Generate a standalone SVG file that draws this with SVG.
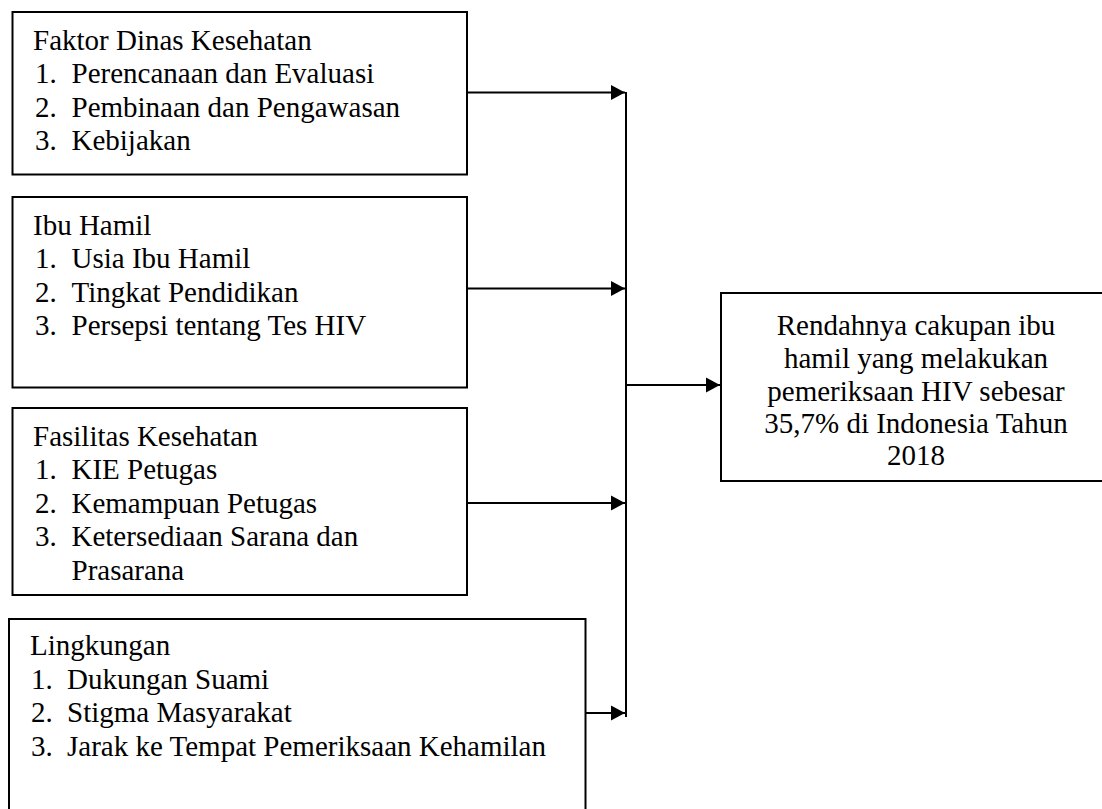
<svg xmlns="http://www.w3.org/2000/svg" width="1102" height="809" viewBox="0 0 1102 809">
<style>
.box{fill:#fff;stroke:#000;stroke-width:2}
.t{font-family:"Liberation Serif","Times New Roman",serif;font-size:29px;fill:#000}
.c{text-anchor:middle}
.ln{stroke:#000;stroke-width:2;fill:none}
</style>
<defs>
<marker id="ah" markerUnits="userSpaceOnUse" markerWidth="16" markerHeight="16" viewBox="0 0 16 16" refX="15" refY="8" orient="auto">
<path d="M1,0.5 L15,8 L1,15.5 Z" fill="#000"/>
</marker>
</defs>
<rect width="1102" height="809" fill="#fff"/>
<g id="node-dinkes">
<rect class="box" x="12.5" y="12" width="454.5" height="162.5"/>
<text class="t" x="33" y="50">Faktor Dinas Kesehatan</text>
<text class="t" x="35" y="83.4">1.</text><text class="t" x="71.5" y="83.4">Perencanaan dan Evaluasi</text>
<text class="t" x="35" y="116.8">2.</text><text class="t" x="71.5" y="116.8">Pembinaan dan Pengawasan</text>
<text class="t" x="35" y="150.2">3.</text><text class="t" x="71.5" y="150.2">Kebijakan</text>
</g>
<g id="node-ibuhamil">
<rect class="box" x="12.5" y="197" width="454.5" height="190.5"/>
<text class="t" x="33" y="235">Ibu Hamil</text>
<text class="t" x="35" y="268.4">1.</text><text class="t" x="71.5" y="268.4">Usia Ibu Hamil</text>
<text class="t" x="35" y="301.8">2.</text><text class="t" x="71.5" y="301.8">Tingkat Pendidikan</text>
<text class="t" x="35" y="335.2">3.</text><text class="t" x="71.5" y="335.2">Persepsi tentang Tes HIV</text>
</g>
<g id="node-faskes">
<rect class="box" x="12.5" y="408" width="454.5" height="187"/>
<text class="t" x="33" y="446">Fasilitas Kesehatan</text>
<text class="t" x="35" y="479.4">1.</text><text class="t" x="71.5" y="479.4">KIE Petugas</text>
<text class="t" x="35" y="512.8">2.</text><text class="t" x="71.5" y="512.8">Kemampuan Petugas</text>
<text class="t" x="35" y="546.2">3.</text><text class="t" x="71.5" y="546.2">Ketersediaan Sarana dan</text>
<text class="t" x="71.5" y="579.6">Prasarana</text>
</g>
<g id="node-lingkungan">
<rect class="box" x="9" y="619" width="576.5" height="210"/>
<text class="t" x="30" y="655">Lingkungan</text>
<text class="t" x="31" y="688.5">1.</text><text class="t" x="67" y="688.5">Dukungan Suami</text>
<text class="t" x="31" y="722">2.</text><text class="t" x="67" y="722">Stigma Masyarakat</text>
<text class="t" x="31" y="755.5">3.</text><text class="t" x="67" y="755.5">Jarak ke Tempat Pemeriksaan Kehamilan</text>
</g>
<g id="node-outcome">
<rect class="box" x="721" y="293" width="400" height="188"/>
<text class="t c" x="916" y="335">Rendahnya cakupan ibu</text>
<text class="t c" x="916" y="368">hamil yang melakukan</text>
<text class="t c" x="916" y="401">pemeriksaan HIV sebesar</text>
<text class="t c" x="916" y="433">35,7% di Indonesia Tahun</text>
<text class="t c" x="916" y="465">2018</text>
</g>
<g id="connectors">
<line class="ln" x1="626" y1="92" x2="626" y2="717"/>
<line class="ln" x1="467" y1="92.5" x2="625" y2="92.5" marker-end="url(#ah)"/>
<line class="ln" x1="467" y1="288.5" x2="625" y2="288.5" marker-end="url(#ah)"/>
<line class="ln" x1="467" y1="503" x2="625" y2="503" marker-end="url(#ah)"/>
<line class="ln" x1="585.5" y1="713" x2="625" y2="713" marker-end="url(#ah)"/>
<line class="ln" x1="627" y1="385" x2="720" y2="385" marker-end="url(#ah)"/>
</g>
</svg>
